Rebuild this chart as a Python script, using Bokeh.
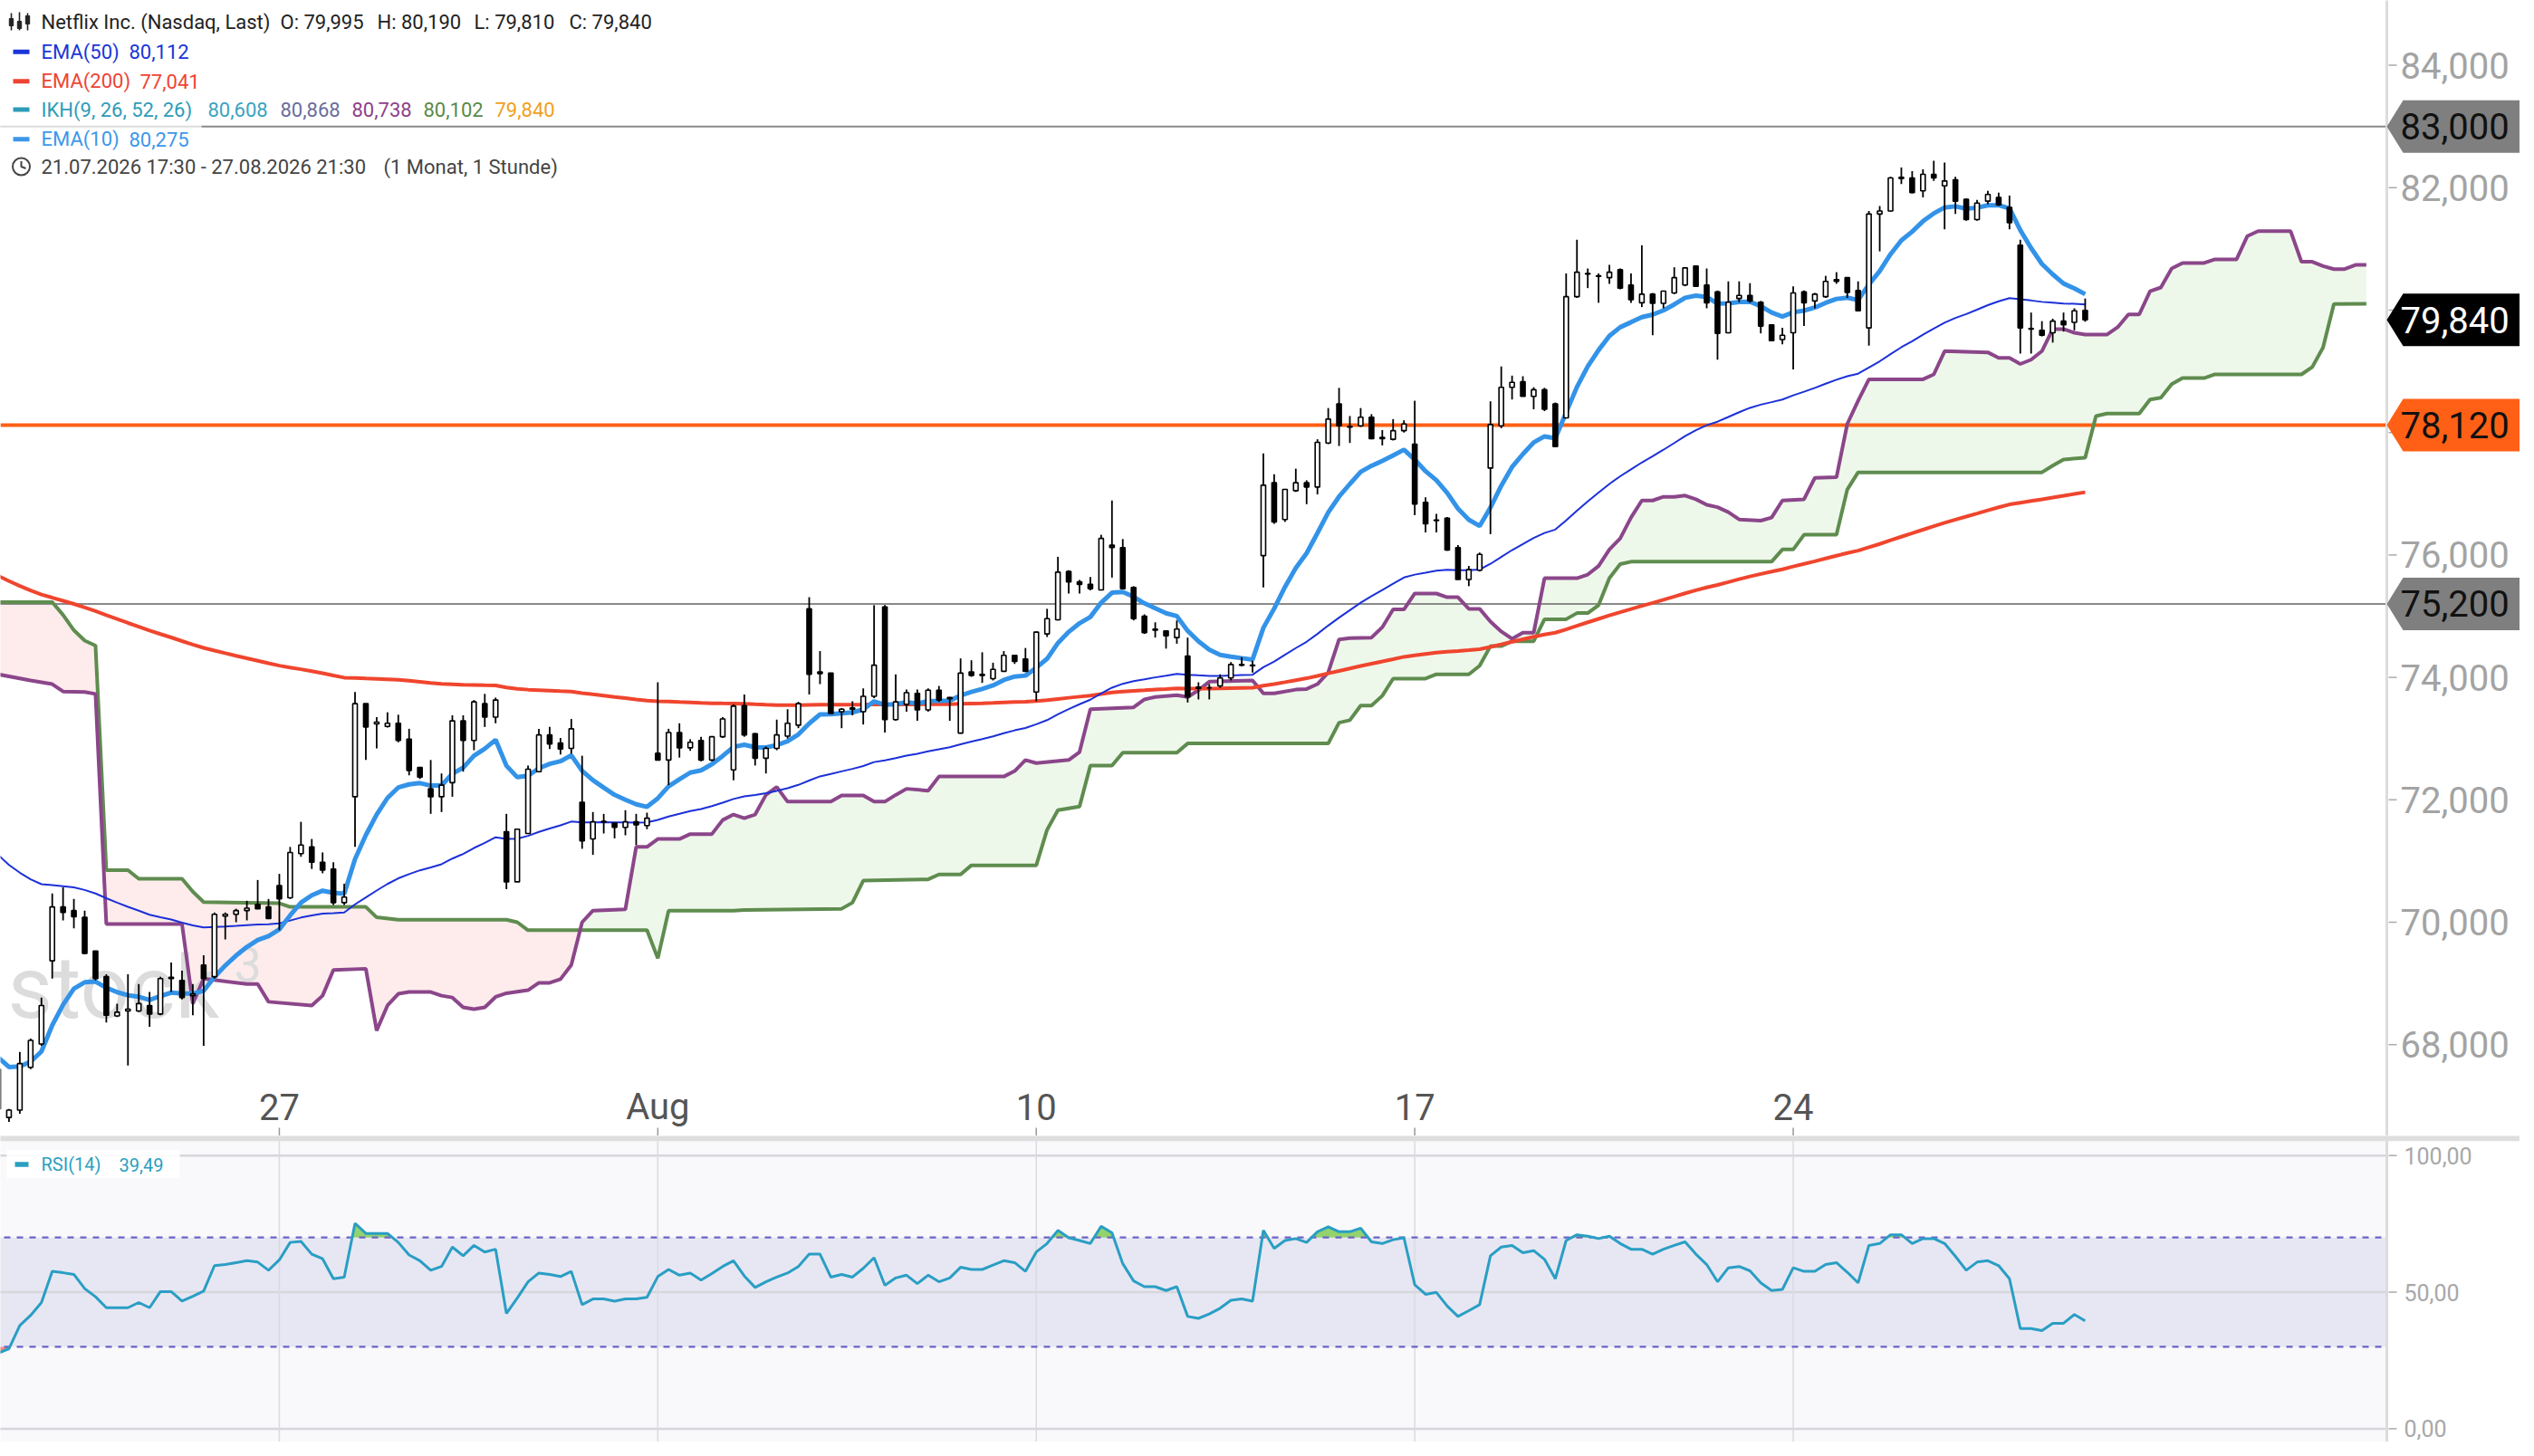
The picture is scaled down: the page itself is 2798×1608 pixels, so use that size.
import numpy as np
from bokeh.plotting import figure
from bokeh.layouts import column
from bokeh.models import Range1d
from bokeh.embed import file_html
from bokeh.resources import INLINE
from bokeh.core.properties import value

# ---------------- data ----------------
opens = [67.60, 66.81, 66.93, 67.63, 68.01, 69.37, 70.25, 70.19, 70.08, 69.53,
         69.11, 68.47, 68.55, 68.55, 68.64, 68.50, 69.08, 69.05, 68.80, 69.30,
         69.11, 70.10, 70.13, 70.19, 70.29, 70.25, 70.60, 70.40, 71.12, 71.23,
         70.98, 70.87, 70.32, 72.05, 73.57, 73.24, 73.20, 73.25, 72.99, 72.53,
         72.18, 72.05, 72.28, 73.29, 72.97, 73.57, 73.35, 71.48, 70.66, 71.45,
         72.46, 73.06, 72.93, 72.84, 71.96, 71.36, 71.64, 71.62, 71.55, 71.64,
         71.58, 72.76, 72.65, 73.10, 72.85, 72.97, 72.65, 73.03, 72.49, 73.54,
         73.08, 72.68, 72.84, 73.04, 73.22, 75.12, 74.09, 74.07, 73.44, 73.48,
         73.44, 73.69, 75.15, 73.31, 73.56, 73.74, 73.47, 73.79, 73.67, 73.09,
         74.09, 74.05, 73.98, 74.10, 74.36, 74.30, 73.76, 74.71, 74.94, 75.73,
         75.56, 75.52, 75.43, 76.16, 76.12, 75.47, 75.00, 74.79, 74.76, 74.65,
         74.35, 73.84, 73.83, 73.86, 73.99, 74.21, 74.20, 75.99, 77.18, 76.58,
         77.05, 77.18, 77.11, 77.83, 78.47, 78.10, 78.11, 78.25, 77.92, 77.89,
         78.03, 77.81, 76.86, 76.57, 76.60, 76.12, 75.60, 75.75, 77.42, 78.11,
         78.74, 78.83, 78.59, 78.70, 78.47, 78.24, 80.22, 80.60, 80.56, 80.53,
         80.66, 80.41, 80.12, 80.26, 80.11, 80.28, 80.41, 80.72, 80.41, 80.30,
         79.63, 80.19, 80.24, 80.13, 79.76, 79.52, 79.63, 80.30, 80.15, 80.22,
         80.50, 80.53, 80.32, 79.71, 81.57, 81.62, 82.17, 82.16, 81.95, 82.22,
         82.03, 82.13, 81.81, 81.48, 81.78, 81.84, 81.68, 81.06, 79.70, 79.67,
         79.63, 79.82, 79.80, 79.995]

highs = [67.90, 66.95, 67.88, 68.10, 68.77, 70.47, 70.57, 70.38, 70.19, 69.53,
         69.15, 68.67, 69.15, 68.99, 68.86, 69.11, 69.34, 69.21, 68.99, 69.46,
         70.16, 70.16, 70.22, 70.35, 70.69, 70.38, 70.79, 71.23, 71.64, 71.36,
         71.14, 70.98, 70.63, 73.76, 73.57, 73.35, 73.43, 73.39, 73.16, 72.53,
         72.65, 72.43, 73.38, 73.38, 73.63, 73.73, 73.67, 71.77, 71.52, 72.56,
         73.16, 73.19, 73.01, 73.32, 72.72, 71.80, 71.77, 71.62, 71.83, 71.77,
         71.79, 73.92, 73.16, 73.25, 72.99, 73.03, 73.03, 73.35, 73.56, 73.72,
         73.09, 72.87, 73.31, 73.48, 73.60, 75.31, 74.43, 74.07, 73.50, 73.61,
         73.82, 75.18, 75.18, 74.05, 73.80, 73.80, 73.82, 73.86, 73.68, 74.31,
         74.28, 74.41, 74.24, 74.43, 74.36, 74.48, 74.75, 75.12, 75.97, 75.75,
         75.59, 75.64, 76.33, 76.89, 76.26, 75.49, 75.03, 74.90, 74.77, 74.93,
         74.65, 73.92, 73.89, 74.05, 74.25, 74.33, 74.27, 77.66, 77.32, 77.08,
         77.41, 77.22, 77.89, 78.40, 78.73, 78.27, 78.40, 78.30, 78.04, 78.22,
         78.20, 78.52, 76.94, 76.67, 76.62, 76.16, 75.82, 76.04, 78.51, 79.08,
         78.93, 78.92, 78.74, 78.73, 78.49, 80.60, 81.15, 80.68, 80.60, 80.74,
         80.68, 80.60, 81.06, 80.28, 80.32, 80.70, 80.70, 80.72, 80.68, 80.32,
         80.47, 80.47, 80.44, 80.15, 79.76, 79.71, 80.39, 80.32, 80.28, 80.56,
         80.62, 80.53, 80.47, 81.62, 81.70, 82.18, 82.33, 82.27, 82.30, 82.44,
         82.41, 82.18, 81.82, 81.80, 81.95, 81.92, 81.87, 81.15, 79.96, 79.82,
         79.86, 79.96, 80.03, 80.19]

lows = [66.80, 66.74, 66.87, 67.60, 67.98, 69.08, 70.03, 69.90, 69.48, 69.05,
        68.36, 68.45, 67.66, 68.53, 68.29, 68.48, 68.86, 68.74, 68.48, 67.98,
        69.08, 69.72, 70.00, 70.03, 70.22, 70.06, 69.87, 70.38, 71.07, 70.87,
        70.80, 70.28, 70.28, 71.23, 72.65, 72.84, 73.18, 72.94, 72.40, 72.34,
        71.77, 71.80, 72.05, 72.46, 72.81, 73.19, 73.25, 70.54, 70.66, 71.45,
        72.46, 72.83, 72.74, 72.75, 71.20, 71.10, 71.45, 71.37, 71.42, 71.26,
        71.52, 72.65, 72.24, 72.69, 72.80, 72.63, 72.63, 73.01, 72.32, 73.03,
        72.56, 72.43, 72.81, 73.00, 73.17, 73.72, 73.89, 73.41, 73.17, 73.38,
        73.23, 73.66, 73.10, 73.29, 73.44, 73.29, 73.44, 73.60, 73.29, 73.08,
        74.01, 73.91, 73.95, 74.09, 74.22, 74.09, 73.61, 74.66, 74.93, 75.37,
        75.37, 75.42, 75.42, 75.63, 75.44, 74.93, 74.71, 74.65, 74.47, 74.55,
        73.59, 73.64, 73.64, 73.83, 73.95, 74.18, 74.08, 75.47, 76.51, 76.54,
        77.03, 76.83, 76.99, 77.81, 77.78, 77.83, 78.09, 77.89, 77.79, 77.87,
        78.00, 76.65, 76.37, 76.37, 76.07, 75.60, 75.49, 75.73, 76.34, 78.07,
        78.54, 78.59, 78.38, 78.35, 77.77, 78.23, 80.20, 80.36, 80.12, 80.43,
        80.34, 80.12, 80.05, 79.59, 80.03, 80.26, 80.39, 80.38, 80.03, 79.19,
        79.62, 80.13, 80.12, 79.62, 79.50, 79.44, 79.03, 79.74, 80.03, 80.20,
        80.43, 80.20, 79.98, 79.42, 80.96, 81.61, 82.06, 81.91, 81.84, 82.11,
        81.32, 81.57, 81.46, 81.46, 81.73, 81.70, 81.32, 79.29, 79.29, 79.57,
        79.47, 79.65, 79.67, 79.81]

closes = [66.95, 66.93, 67.69, 68.07, 68.64, 70.25, 70.16, 70.09, 69.49, 69.08,
          68.48, 68.53, 68.58, 68.67, 68.50, 69.08, 69.10, 68.77, 68.83, 69.08,
          70.13, 70.13, 70.19, 70.23, 70.22, 70.06, 70.38, 71.14, 71.26, 70.98,
          70.85, 70.32, 70.41, 73.57, 73.19, 73.27, 73.25, 72.97, 72.48, 72.37,
          72.05, 72.24, 73.29, 72.97, 73.60, 73.35, 73.63, 70.66, 71.52, 72.50,
          73.06, 72.91, 72.83, 73.16, 71.33, 71.64, 71.65, 71.55, 71.64, 71.59,
          71.70, 72.65, 73.10, 72.85, 72.94, 72.65, 73.03, 73.32, 73.53, 73.06,
          72.68, 72.84, 73.06, 73.25, 73.57, 74.05, 74.06, 73.41, 73.48, 73.50,
          73.69, 74.20, 73.31, 73.60, 73.75, 73.47, 73.79, 73.63, 73.65, 74.07,
          74.03, 74.03, 74.13, 74.36, 74.26, 74.10, 74.74, 74.96, 75.72, 75.56,
          75.52, 75.45, 76.27, 76.12, 75.45, 74.96, 74.73, 74.77, 74.68, 74.79,
          73.68, 73.82, 73.83, 73.99, 74.21, 74.20, 74.19, 77.14, 76.54, 77.07,
          77.18, 77.11, 77.84, 78.22, 78.11, 78.09, 78.25, 77.90, 77.90, 78.03,
          78.14, 76.83, 76.51, 76.56, 76.08, 75.60, 75.76, 76.01, 78.13, 78.74,
          78.82, 78.59, 78.70, 78.38, 77.77, 80.22, 80.62, 80.59, 80.55, 80.62,
          80.36, 80.17, 80.26, 80.11, 80.31, 80.53, 80.69, 80.39, 80.12, 79.62,
          80.13, 80.24, 80.15, 79.74, 79.50, 79.59, 80.28, 80.12, 80.26, 80.47,
          80.47, 80.29, 79.99, 81.57, 81.62, 82.16, 82.15, 81.92, 82.22, 82.16,
          82.11, 81.78, 81.48, 81.75, 81.89, 81.72, 81.43, 79.71, 79.69, 79.59,
          79.82, 79.76, 79.99, 79.84]

rsi_vals = [27.7, 29.3, 37.8, 41.5, 46.2, 57.6, 57.1, 56.5, 51.3, 48.3,
            44.3, 44.3, 44.3, 46.2, 44.3, 50.2, 50.2, 46.7, 48.5, 50.4,
            59.7, 60.1, 60.8, 61.5, 61.0, 58.0, 61.8, 68.2, 68.6, 63.9,
            62.2, 54.9, 55.5, 75.2, 71.5, 71.5, 71.5, 68.2, 63.6, 61.5,
            58.0, 59.4, 66.5, 63.3, 67.1, 64.7, 65.7, 42.2, 47.8, 53.8,
            57.0, 56.5, 55.7, 57.6, 45.4, 47.5, 47.5, 46.7, 47.5, 47.5,
            48.1, 55.7, 58.3, 56.2, 57.0, 54.4, 56.8, 59.4, 61.5, 55.9,
            51.7, 53.8, 55.5, 57.0, 59.4, 63.9, 63.9, 55.5, 56.5, 55.5,
            58.7, 62.6, 52.5, 55.2, 56.2, 53.1, 56.2, 53.8, 55.2, 59.1,
            58.3, 58.3, 59.9, 61.5, 60.8, 57.6, 64.7, 67.8, 72.6, 69.9,
            68.9, 67.8, 74.1, 71.7, 60.4, 54.1, 52.0, 52.0, 50.6, 52.0,
            41.1, 40.4, 42.0, 44.1, 47.0, 47.5, 46.7, 72.6, 66.0, 68.9,
            69.6, 68.2, 72.1, 73.9, 72.1, 72.1, 73.4, 68.4, 67.8, 69.2,
            69.9, 52.7, 49.2, 49.9, 44.9, 41.1, 43.2, 45.4, 63.3, 66.5,
            67.1, 64.4, 65.2, 62.0, 54.9, 68.9, 71.0, 70.5, 69.6, 70.5,
            67.8, 65.7, 65.7, 63.9, 65.7, 67.1, 68.4, 63.9, 60.1, 53.8,
            58.9, 59.4, 57.8, 53.4, 50.6, 51.0, 58.9, 57.6, 57.6, 60.1,
            60.8, 57.3, 53.4, 67.1, 67.8, 71.0, 71.0, 67.8, 69.6, 69.6,
            67.8, 63.1, 58.0, 61.0, 61.5, 59.7, 54.9, 36.7, 36.7, 35.9,
            38.6, 38.6, 41.8, 39.49]

# Ichimoku Senkou span A (purple) and span B (green): polyline vertices (candle index, price)
span_a_idx = [0, 3, 5, 6, 8, 9, 10, 17, 18, 19, 23, 24, 25, 29, 30, 31, 34, 35, 36, 37,
              38, 40, 41, 42, 43, 44, 45, 46, 47, 49, 50, 51, 52, 53, 54, 55, 58, 59, 60, 61,
              63, 64, 66, 67, 68, 69, 70, 71, 72, 73, 77, 78, 80, 81, 82, 83, 84, 86, 87, 93,
              94, 95, 96, 99, 100, 101, 105, 106, 107, 109, 110, 111, 112, 116, 117, 118, 120, 121, 122, 123,
              124, 125, 127, 128, 129, 130, 131, 133, 134, 135, 136, 137, 138, 139, 140, 141, 142, 143, 146, 147,
              148, 149, 150, 151, 152, 153, 154, 155, 156, 157, 158, 159, 160, 161, 163, 164, 165, 167, 168, 170,
              171, 172, 173, 178, 179, 180, 184, 185, 186, 187, 188, 189, 190, 191, 192, 193, 195, 196, 197, 198,
              199, 200, 201, 202, 204, 205, 207, 208, 209, 212, 213, 214, 215, 216, 217, 218, 219]
span_a_val = [74.05, 73.95, 73.89, 73.77, 73.76, 73.73, 69.97, 69.97, 68.67, 69.08, 68.99, 68.99, 68.70, 68.64, 68.80, 69.22, 69.24, 68.23, 68.64, 68.83,
              68.86, 68.86, 68.80, 68.77, 68.61, 68.58, 68.61, 68.78, 68.84, 68.89, 69.01, 69.01, 69.07, 69.30, 70.00, 70.19, 70.21, 71.23, 71.23, 71.36,
              71.36, 71.44, 71.44, 71.67, 71.76, 71.70, 71.76, 72.08, 72.21, 71.97, 71.97, 72.07, 72.07, 71.97, 71.97, 72.08, 72.18, 72.15, 72.38, 72.38,
              72.47, 72.65, 72.60, 72.65, 72.78, 73.48, 73.51, 73.64, 73.68, 73.71, 73.68, 73.79, 73.93, 73.95, 73.74, 73.74, 73.80, 73.81, 73.89, 74.08,
              74.62, 74.64, 74.65, 74.82, 75.11, 75.11, 75.37, 75.37, 75.31, 75.31, 75.12, 75.12, 74.91, 74.75, 74.63, 74.73, 74.73, 75.62, 75.62, 75.68,
              75.82, 76.09, 76.27, 76.61, 76.89, 76.89, 76.95, 76.95, 76.97, 76.91, 76.82, 76.78, 76.70, 76.58, 76.56, 76.61, 76.89, 76.91, 77.26, 77.27,
              78.14, 78.52, 78.87, 78.87, 78.95, 79.33, 79.31, 79.22, 79.22, 79.12, 79.19, 79.33, 79.69, 79.69, 79.63, 79.60, 79.60, 79.72, 79.93, 79.93,
              80.31, 80.37, 80.68, 80.77, 80.77, 80.83, 80.83, 81.21, 81.29, 81.29, 80.79, 80.79, 80.72, 80.67, 80.67, 80.738, 80.738]
span_b_idx = [0, 5, 6, 7, 8, 9, 10, 12, 13, 17, 18, 19, 26, 27, 34, 35, 37, 47, 48, 49,
              60, 61, 62, 68, 69, 78, 79, 80, 86, 87, 89, 90, 96, 97, 98, 100, 101, 103, 104, 109,
              110, 123, 124, 125, 126, 127, 128, 129, 132, 133, 136, 137, 138, 139, 140, 142, 143, 145, 146, 147,
              148, 149, 150, 151, 164, 165, 166, 167, 170, 171, 172, 189, 190, 191, 193, 194, 195, 198, 199, 200,
              201, 202, 204, 205, 213, 214, 215, 216, 219]
span_b_val = [75.23, 75.23, 75.02, 74.77, 74.60, 74.52, 70.85, 70.85, 70.71, 70.71, 70.50, 70.33, 70.31, 70.25, 70.25, 70.08, 70.04, 70.04, 70.00, 69.87,
              69.87, 69.41, 70.19, 70.19, 70.20, 70.22, 70.32, 70.68, 70.70, 70.78, 70.78, 70.93, 70.93, 71.51, 71.83, 71.89, 72.56, 72.56, 72.77, 72.77,
              72.92, 72.92, 73.26, 73.30, 73.54, 73.54, 73.70, 73.98, 73.98, 74.05, 74.05, 74.19, 74.51, 74.51, 74.59, 74.59, 74.95, 74.95, 75.05, 75.05,
              75.18, 75.62, 75.85, 75.89, 75.89, 76.09, 76.09, 76.33, 76.33, 77.07, 77.35, 77.35, 77.46, 77.56, 77.59, 78.27, 78.31, 78.31, 78.54, 78.57,
              78.79, 78.89, 78.89, 78.95, 78.95, 79.07, 79.39, 80.10, 80.102]

# EMA values at the first visible candle
ema10_start, ema50_start, ema200_start = 67.79, 71.10, 75.66

resistance_levels = [83.0, 75.2]
support_level = 78.12
price_ticks = [68, 70, 72, 74, 76, 78, 80, 82, 84]
rsi_ticks = [100, 50, 0]
rsi_upper, rsi_lower = 70, 30
day_idx = [26, 61, 96, 131, 166]
day_labels = ["27", "Aug", "10", "17", "24"]

legend_ohlc = ["O: 79,995", "H: 80,190", "L: 79,810", "C: 79,840"]
ikh_values = ["80,608", "80,868", "80,738", "80,102", "79,840"]
ema_legend = [("EMA(50)", "80,112"), ("EMA(200)", "77,041"), ("EMA(10)", "80,275")]
rsi_last = "39,49"

# ---------------- layout helpers (reference pixels -> data) ----------------
W, HM, HR = 2782, 1254, 338
XS, X0 = 11.94, -2.5
SEP = 2635
LBLX = 2650


def ix(px):
    return (px - X0) / XS


def py(px):
    return 84.0 - (px - 71.6) / 67.6


def ry(px):
    return 100.0 - (px - 1276.7) / 3.16


FONT = value("Roboto")


def txt(fig, x, y, s, color, size, align="left"):
    fig.text(x=[float(x)], y=[float(y)], text=[s], text_color=color, text_font=FONT,
             text_font_size=value(f"{int(size)}px"), text_align=align,
             text_baseline="middle")


def fmt(v, d=3):
    return f"{v:.{d}f}".replace(".", ",")


def ema(vals, n, start):
    a = 2.0 / (n + 1)
    out = [start]
    for v in vals[1:]:
        out.append(out[-1] + a * (v - out[-1]))
    return np.array(out)


def with_crossings(x, a, b):
    x = np.asarray(x, float)
    a = np.asarray(a, float)
    b = np.asarray(b, float)
    xs = [x[0]]
    for i in range(len(x) - 1):
        d0 = a[i] - b[i]
        d1 = a[i + 1] - b[i + 1]
        if d0 * d1 < 0:
            t = d0 / (d0 - d1)
            xs.append(x[i] + t * (x[i + 1] - x[i]))
        xs.append(x[i + 1])
    xs = np.array(xs)
    return xs, np.interp(xs, x, a), np.interp(xs, x, b)


xr = Range1d(ix(0), ix(W))


def make_fig(h, yr, bg):
    f = figure(width=W, height=h, x_range=xr, y_range=yr, output_backend="svg",
               toolbar_location=None, x_axis_location=None, y_axis_location=None,
               min_border=0)
    f.min_border_left = 0
    f.min_border_right = 0
    f.min_border_top = 0
    f.min_border_bottom = 0
    f.grid.visible = False
    f.outline_line_color = None
    f.background_fill_color = bg
    f.border_fill_color = "white"
    return f


# ---------------- main price panel ----------------
p = make_fig(HM, Range1d(py(HM), py(0)), "white")

idx = np.arange(len(closes))
o = np.array(opens)
h = np.array(highs)
l = np.array(lows)
c = np.array(closes)

# cloud
ux = np.union1d(span_a_idx, span_b_idx).astype(float)
ua = np.interp(ux, span_a_idx, span_a_val)
ub = np.interp(ux, span_b_idx, span_b_val)
cx, ca, cb = with_crossings(ux, ua, ub)
p.varea(x=cx, y1=cb, y2=np.maximum(ca, cb), fill_color="#eef8ea")
p.varea(x=cx, y1=ca, y2=np.maximum(ca, cb), fill_color="#fdeceb")

# watermark
txt(p, ix(8), py(1090), "stock", "#dcdcdc", 96)
txt(p, ix(258), py(1064), "3", "#dcdcdc", 54)

# horizontal levels
for lv in resistance_levels:
    p.line(x=[ix(0), ix(SEP)], y=[lv, lv], line_color="#8a8a8a", line_width=2)
p.line(x=[ix(0), ix(SEP)], y=[support_level, support_level], line_color="#ff6016", line_width=4)

# ichimoku spans
p.line(x=span_b_idx, y=span_b_val, line_color="#5f8c4f", line_width=4)
p.line(x=span_a_idx, y=span_a_val, line_color="#8b468a", line_width=4)

# EMAs
e200 = ema(closes, 200, ema200_start)
e50 = ema(closes, 50, ema50_start)
e10 = ema(closes, 10, ema10_start)
p.line(x=idx, y=e200, line_color="#f0452e", line_width=4)
p.line(x=idx, y=e50, line_color="#1c30d8", line_width=2)
p.line(x=idx, y=e10, line_color="#3393e8", line_width=5)

# candles
up = c >= o
p.segment(x0=idx, y0=l, x1=idx, y1=h, line_color="#000000", line_width=1.8)
p.vbar(x=idx[up], width=0.42, top=c[up], bottom=o[up], fill_color="white",
       line_color="#000000", line_width=1.6)
p.vbar(x=idx[~up], width=0.42, top=o[~up], bottom=c[~up], fill_color="#000000",
       line_color="#000000", line_width=1.6)

# date labels and ticks
for d, s in zip(day_idx, day_labels):
    txt(p, d, py(1222), s, "#555555", 40, align="center")
p.segment(x0=day_idx, y0=[py(1245)] * 5, x1=day_idx, y1=[py(1254)] * 5,
          line_color="#999999", line_width=1.5)

# right axis area
p.quad(left=ix(SEP), right=ix(W + 20), bottom=py(HM + 10), top=py(-10), fill_color="white", line_color=None)
p.line(x=[ix(SEP), ix(SEP)], y=[py(-10), py(HM + 10)], line_color="#dcdcdc", line_width=3)
for v in price_ticks:
    p.line(x=[ix(SEP + 2), ix(SEP + 11)], y=[v, v], line_color="#aaaaaa", line_width=1.5)
    txt(p, ix(LBLX), v, fmt(v), "#a3a3a3", 40)

# price tags
hh = 29 / 67.6
tags = [(resistance_levels[0], "#7f7f7f", "#111111"),
        (resistance_levels[1], "#7f7f7f", "#111111"),
        (support_level, "#ff6016", "#111111"),
        (closes[-1], "#000000", "#ffffff")]
for lv, bgc, tc in tags:
    p.patch(x=[ix(SEP), ix(SEP + 18), ix(W + 20), ix(W + 20), ix(SEP + 18)],
            y=[lv, lv + hh, lv + hh, lv - hh, lv - hh], fill_color=bgc, line_color=None)
    txt(p, ix(LBLX), lv, fmt(lv), tc, 40)

# legend (top left)
p.quad(left=ix(0), right=ix(222), top=py(137), bottom=py(168), fill_color="white", fill_alpha=0.7, line_color=None)
ROW = [24, 56.7, 89.3, 120.5, 153.3, 183.5]
for cx_, w0, w1, b0, b1 in [(12, 14, 33, 20, 28), (21, 13, 33, 23, 31), (30, 14, 33, 17, 26)]:
    p.line(x=[ix(cx_), ix(cx_)], y=[py(w0), py(w1)], line_color="#222222", line_width=1.6)
    p.quad(left=ix(cx_ - 2.2), right=ix(cx_ + 2.2), top=py(b0), bottom=py(b1),
           fill_color="#222222", line_color="#222222", line_width=1)
txt(p, ix(45), py(ROW[0]), "Netflix Inc. (Nasdaq, Last)", "#222222", 22)
for xx, s in zip([309, 416, 523, 628], legend_ohlc):
    txt(p, ix(xx), py(ROW[0]), s, "#222222", 22)

leg_colors = ["#1a35d8", "#ee4433", "#3d97ea"]
leg_rows = [ROW[1], ROW[2], ROW[4]]
for (name, val), col, ry_ in zip(ema_legend, leg_colors, leg_rows):
    p.quad(left=ix(14), right=ix(32), top=py(ry_ - 2.5), bottom=py(ry_ + 2.5), fill_color=col, line_color=None)
    txt(p, ix(45), py(ry_), name, col, 22)
    txt(p, ix(142 if name != "EMA(200)" else 154), py(ry_), val, col, 22)

p.quad(left=ix(14), right=ix(32), top=py(ROW[3] - 2.5), bottom=py(ROW[3] + 2.5), fill_color="#2e9cb8", line_color=None)
txt(p, ix(45), py(ROW[3]), "IKH(9, 26, 52, 26)", "#2e9cb8", 22)
for xx, s, col in zip([229, 309, 388, 467, 546], ikh_values,
                      ["#3aa3bf", "#6a6d9a", "#8e3f8a", "#5a8a48", "#f0a020"]):
    txt(p, ix(xx), py(ROW[3]), s, col, 22)

p.scatter(x=[ix(23)], y=[py(ROW[5])], size=19, marker="circle", fill_color="white",
          fill_alpha=0.0, line_color="#444444", line_width=2)
p.line(x=[ix(23), ix(23), ix(28)], y=[py(ROW[5] - 6), py(ROW[5]), py(ROW[5] + 2)],
       line_color="#444444", line_width=2)
txt(p, ix(45), py(ROW[5]), "21.07.2026 17:30 - 27.08.2026 21:30", "#444444", 22)
txt(p, ix(423), py(ROW[5]), "(1 Monat, 1 Stunde)", "#444444", 22)

# ---------------- RSI panel ----------------
r = make_fig(HR, Range1d(ry(1608), ry(1254)), "white")
r.quad(left=ix(-10), right=ix(SEP), bottom=ry(1620), top=ry(1260), fill_color="#f9f9fb", line_color=None)
r.quad(left=ix(-10), right=ix(SEP), bottom=rsi_lower, top=rsi_upper, fill_color="#e7e7f3", line_color=None)
for v in rsi_ticks:
    r.line(x=[ix(-10), ix(SEP)], y=[v, v], line_color="#d6d6dc", line_width=2.5)
r.segment(x0=day_idx, y0=[ry(1260)] * 5, x1=day_idx, y1=[ry(1620)] * 5,
          line_color="#dadae2", line_width=1.5)

ridx = np.arange(len(rsi_vals))
gx, ga, gb = with_crossings(ridx, rsi_vals, [rsi_upper] * len(rsi_vals))
r.varea(x=gx, y1=gb, y2=np.maximum(ga, gb), fill_color="#92d36e")
lx, la, lb = with_crossings(ridx, rsi_vals, [rsi_lower] * len(rsi_vals))
r.varea(x=lx, y1=np.minimum(la, lb), y2=lb, fill_color="#f08a80")

for v in [rsi_upper, rsi_lower]:
    r.line(x=[ix(-10), ix(SEP)], y=[v, v], line_color="#6c63c6", line_width=2.2, line_dash="7 7")
r.line(x=ridx, y=rsi_vals, line_color="#2a9ec4", line_width=3)

r.quad(left=ix(SEP), right=ix(W + 20), bottom=ry(1620), top=ry(1260), fill_color="white", line_color=None)
r.line(x=[ix(SEP), ix(SEP)], y=[ry(1620), ry(1254)], line_color="#dcdcdc", line_width=3)
for v in rsi_ticks:
    r.line(x=[ix(SEP + 2), ix(SEP + 11)], y=[v, v], line_color="#aaaaaa", line_width=1.5)
    txt(r, ix(LBLX + 4), v, fmt(v, 2), "#a8a8a8", 25)

r.quad(left=ix(-10), right=ix(W + 20), bottom=ry(1260), top=ry(1250), fill_color="#dedede", line_color=None)

r.quad(left=ix(7), right=ix(198), top=ry(1270), bottom=ry(1303), fill_color="white", fill_alpha=0.9, line_color=None)
r.quad(left=ix(16), right=ix(31), top=ry(1284), bottom=ry(1290), fill_color="#2a9fc0", line_color=None)
txt(r, ix(45), ry(1287), "RSI(14)", "#2a9fc0", 20)
txt(r, ix(131), ry(1287), rsi_last, "#2a9fc0", 20)

layout = column(p, r, spacing=0)
open("out.html", "w").write(file_html(layout, INLINE))
